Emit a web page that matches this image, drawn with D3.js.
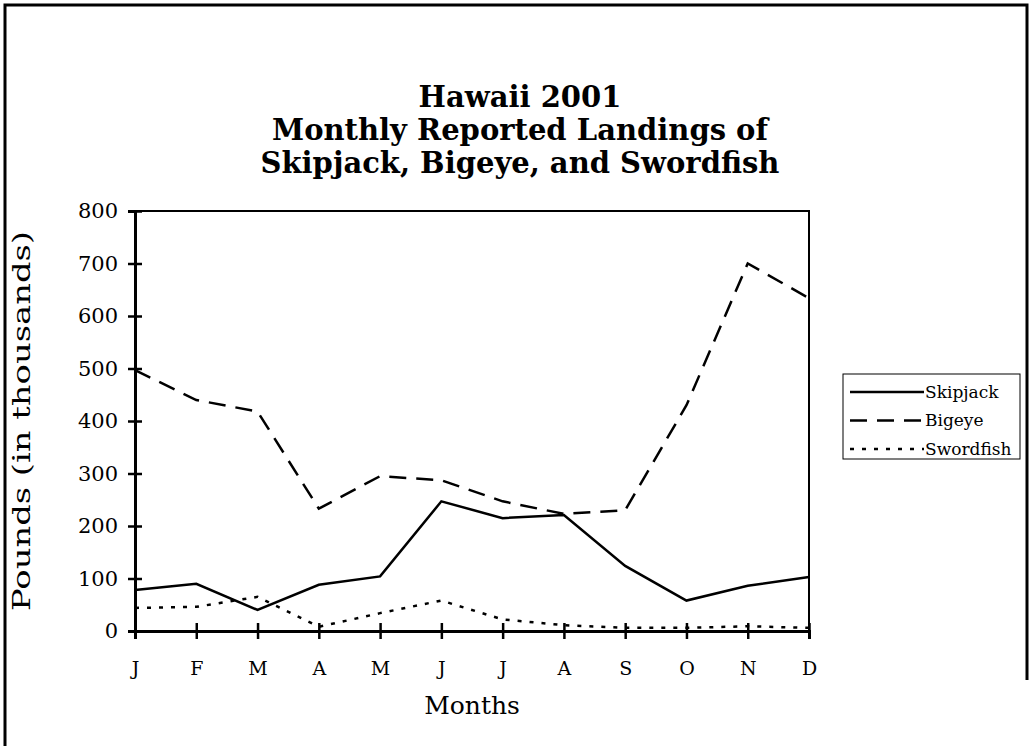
<!DOCTYPE html>
<html lang="en">
<head>
    <meta charset="UTF-8">
    <title>Hawaii 2001 Landings</title>
    <style>
      body { margin: 0; background: #fff; }
      svg { display: block; font-family: "DejaVu Serif", serif; }
    </style>
</head>
<body>
  <svg width="1030" height="746"></svg>
  <script src="https://d3js.org/d3.v7.min.js"></script>
  <script>
    const months = ['J', 'F', 'M', 'A', 'M', 'J', 'J', 'A', 'S', 'O', 'N', 'D'];
    const skipjack = [78, 90, 40, 88, 104, 247, 215, 221, 124, 58, 86, 103];
    const bigeye = [497, 440, 418, 233, 295, 287, 247, 223, 230, 430, 700, 634];
    const swordfish = [44, 46, 65, 8, 34, 58, 22, 11, 6, 6, 9, 6];
    const yTicks = [0, 100, 200, 300, 400, 500, 600, 700, 800];
    const titleLines = ['Hawaii 2001', 'Monthly Reported Landings of', 'Skipjack, Bigeye, and Swordfish'];

    const series = [
      { name: 'Skipjack', values: skipjack, dash: null },
      { name: 'Bigeye', values: bigeye, dash: '17,10' },
      { name: 'Swordfish', values: swordfish, dash: '4,8' }
    ];

    const svg = d3.select('svg');
    const margin = { top: 211, left: 135 };
    const width = 674, height = 420;

    // outer frame (only top/left/right edges show in the original)
    svg.append('path')
      .attr('d', 'M5,746V5H1027V680')
      .attr('fill', 'none')
      .attr('stroke', '#000')
      .attr('stroke-width', 3);

    svg.append('g').selectAll('text')
      .data(titleLines)
      .join('text')
      .attr('x', 520)
      .attr('y', (d, i) => 107 + i * 33)
      .attr('text-anchor', 'middle')
      .attr('font-size', 29)
      .attr('font-weight', 'bold')
      .text(d => d);

    const g = svg.append('g').attr('transform', `translate(${margin.left},${margin.top})`);

    const x = d3.scalePoint().domain(d3.range(months.length)).range([0, width]);
    const y = d3.scaleLinear().domain([0, 800]).range([height, 0]);

    // top and right edges of the plot
    g.append('path')
      .attr('d', `M0,${y(800)}H${width}V${height}`)
      .attr('fill', 'none')
      .attr('stroke', '#000')
      .attr('stroke-width', 2);

    const yAxis = g.append('g')
      .call(d3.axisLeft(y).tickValues(yTicks).tickSize(7).tickPadding(10));
    yAxis.select('.domain').attr('stroke-width', 3);
    yAxis.selectAll('.tick line').attr('x2', -7).attr('x1', 7).attr('stroke-width', 2.5);
    yAxis.selectAll('.tick text')
      .attr('font-family', '"DejaVu Serif", serif')
      .attr('font-size', 21)
      .attr('x', -17);

    const xAxis = g.append('g')
      .attr('transform', `translate(0,${height})`)
      .call(d3.axisBottom(x).tickFormat(i => months[i]).tickSize(8).tickPadding(23));
    xAxis.select('.domain').attr('stroke-width', 3);
    xAxis.selectAll('.tick line').attr('y1', -8).attr('y2', 8).attr('stroke-width', 2.5);
    xAxis.selectAll('.tick text')
      .attr('font-family', '"DejaVu Serif", serif')
      .attr('font-size', 19);

    const line = d3.line().x((d, i) => x(i)).y(d => y(d));

    g.selectAll('.series')
      .data(series)
      .join('path')
      .attr('class', 'series')
      .attr('fill', 'none')
      .attr('stroke', '#000')
      .attr('stroke-width', 2.5)
      .attr('stroke-linejoin', 'miter')
      .attr('stroke-dasharray', d => d.dash)
      .attr('d', d => line(d.values));

    svg.append('text')
      .attr('x', margin.left + width / 2)
      .attr('y', 714)
      .attr('text-anchor', 'middle')
      .attr('font-size', 25)
      .text('Months');

    svg.append('text')
      .attr('transform', `translate(30,${margin.top + height / 2}) rotate(-90)`)
      .attr('text-anchor', 'middle')
      .attr('font-size', 24)
      .attr('textLength', 380)
      .attr('lengthAdjust', 'spacingAndGlyphs')
      .text('Pounds (in thousands)');

    // legend
    const legend = svg.append('g').attr('transform', 'translate(843,374)');
    legend.append('rect')
      .attr('width', 177)
      .attr('height', 85)
      .attr('fill', '#fff')
      .attr('stroke', '#000')
      .attr('stroke-width', 1);
    const item = legend.selectAll('.item')
      .data(series)
      .join('g')
      .attr('class', 'item')
      .attr('transform', (d, i) => `translate(0,${18 + i * 28.5})`);
    item.append('line')
      .attr('x1', 7).attr('x2', 81)
      .attr('stroke', '#000')
      .attr('stroke-width', 2.5)
      .attr('stroke-dasharray', d => d.dash);
    item.append('text')
      .attr('x', 82)
      .attr('dy', '0.35em')
      .attr('font-size', 17)
      .text(d => d.name);
  </script>
</body>
</html>
